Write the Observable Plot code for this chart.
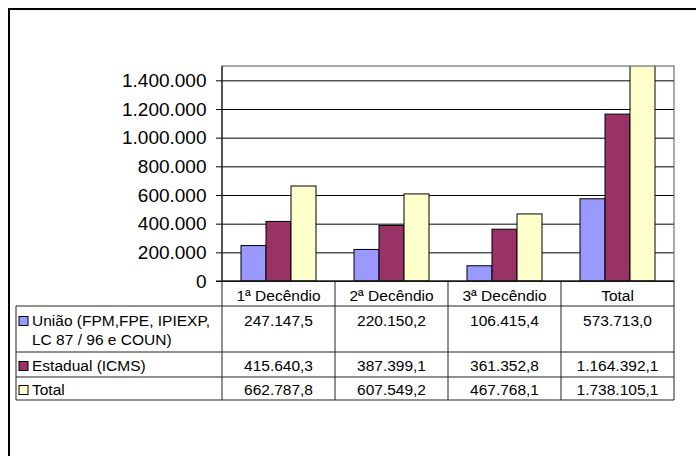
<!DOCTYPE html>
<html>
<head>
<meta charset="utf-8">
<script src="https://cdn.jsdelivr.net/npm/d3@7"></script>
<script src="https://cdn.jsdelivr.net/npm/@observablehq/plot@0.6"></script>
<style>
  html, body { margin: 0; padding: 0; background: white; }
  #chart { position: relative; width: 696px; height: 456px; }
</style>
</head>
<body>
<div id="chart"></div>
<script>
const categories = ["1ª Decêndio", "2ª Decêndio", "3ª Decêndio", "Total"];
const seriesKeys = ["União", "Estadual", "Total"];
const seriesLabels = [["União (FPM,FPE, IPIEXP,", "LC 87 / 96 e COUN)"], ["Estadual (ICMS)"], ["Total"]];
const uniao = [247147.5, 220150.2, 106415.4, 573713.0];
const estadual = [415640.3, 387399.1, 361352.8, 1164392.1];
const total = [662787.8, 607549.2, 467768.1, 1738105.1];
const yTicks = [0, 200000, 400000, 600000, 800000, 1000000, 1200000, 1400000];
const colors = ["#9999FF", "#993366", "#FFFFCC"];

const seriesValues = [uniao, estadual, total];
const data = categories.flatMap((cat, i) =>
  seriesKeys.map((s, k) => ({cat, series: s, value: seriesValues[k][i]}))
);

const loc = d3.formatLocale({decimal: ",", thousands: ".", grouping: [3], currency: ["R$", ""]});
const fmtTick = loc.format(",.0f");
const fmtVal = loc.format(",.1f");
const FONT = "'Liberation Sans', Arial, Helvetica, sans-serif";

const plot = Plot.plot({
  width: 696,
  height: 456,
  marginLeft: 222,
  marginRight: 22,
  marginTop: 66,
  marginBottom: 175,
  style: {fontFamily: FONT, background: "white", color: "black"},
  fx: {domain: categories, padding: 0, axis: null},
  x: {domain: seriesKeys, paddingInner: 0, paddingOuter: 0.735, axis: null},
  y: {domain: [0, 1500000], axis: null},
  color: {domain: seriesKeys, range: colors},
  marks: [
    Plot.gridY(yTicks, {stroke: "black", strokeOpacity: 1, strokeWidth: 1}),
    Plot.barY(data, {fx: "cat", x: "series", y: "value", fill: "series", stroke: "black", strokeWidth: 1, clip: true}),
    Plot.axisY(yTicks, {tickFormat: fmtTick, tickSize: 6, tickPadding: 10, fontSize: 19, stroke: "black", fill: "black", label: null})
  ]
});
document.getElementById("chart").appendChild(plot);

// Overlay: plot frame, axis line, data table, outer border
const fx = plot.scale("fx");
const ys = plot.scale("y");
const bw = fx.bandwidth;
const xLeft = fx.apply(categories[0]);
const xRight = fx.apply(categories[categories.length - 1]) + bw;
const yTop = ys.apply(1500000);
const y0 = ys.apply(0);

const svg = d3.select(plot);
const g = svg.append("g").attr("font-family", FONT).attr("fill", "black").attr("text-anchor", "start");

// plot area frame
g.append("rect").attr("x", xLeft).attr("y", yTop).attr("width", xRight - xLeft).attr("height", y0 - yTop)
  .attr("fill", "none").attr("stroke", "#555").attr("stroke-width", 1);
g.append("line").attr("x1", xLeft).attr("x2", xLeft).attr("y1", yTop).attr("y2", y0).attr("stroke", "black");
g.append("line").attr("x1", xLeft - 6).attr("x2", xRight).attr("y1", y0).attr("y2", y0).attr("stroke", "black");

// data table
const tableLeft = 16;
const rowBounds = [y0, y0 + 25, y0 + 71, y0 + 96, y0 + 119];
const colBounds = [xLeft, ...categories.map(c => fx.apply(c) + bw)];
const lineColor = "#222";
rowBounds.slice(1).forEach(yy => {
  g.append("line").attr("x1", tableLeft).attr("x2", xRight).attr("y1", yy).attr("y2", yy)
    .attr("stroke", lineColor).attr("stroke-width", 1);
});
g.append("line").attr("x1", tableLeft).attr("x2", tableLeft).attr("y1", rowBounds[1]).attr("y2", rowBounds[4])
  .attr("stroke", lineColor);
colBounds.forEach(xx => {
  g.append("line").attr("x1", xx).attr("x2", xx).attr("y1", rowBounds[0]).attr("y2", rowBounds[4])
    .attr("stroke", lineColor);
});
categories.forEach(c => {
  g.append("text").attr("x", fx.apply(c) + bw / 2).attr("y", rowBounds[0] + 20)
    .attr("text-anchor", "middle").attr("font-size", 15.5).text(c);
});
const baselines = [rowBounds[1] + 20, rowBounds[2] + 19, rowBounds[3] + 18];
seriesKeys.forEach((s, k) => {
  const b = baselines[k];
  g.append("rect").attr("x", 19).attr("y", b - 9.5).attr("width", 9).attr("height", 9)
    .attr("fill", colors[k]).attr("stroke", "black").attr("stroke-width", 1);
  seriesLabels[k].forEach((line, j) => {
    g.append("text").attr("x", 32).attr("y", b + j * 19).attr("text-anchor", "start")
      .attr("font-size", 15.5).text(line);
  });
  categories.forEach((c, i) => {
    g.append("text").attr("x", fx.apply(c) + bw / 2).attr("y", b)
      .attr("text-anchor", "middle").attr("font-size", 15.5).text(fmtVal(seriesValues[k][i]));
  });
});

// outer chart border (right/bottom lie outside the picture)
g.append("rect").attr("x", 9).attr("y", 9).attr("width", 700).attr("height", 460)
  .attr("fill", "none").attr("stroke", "black").attr("stroke-width", 2);
</script>
</body>
</html>
